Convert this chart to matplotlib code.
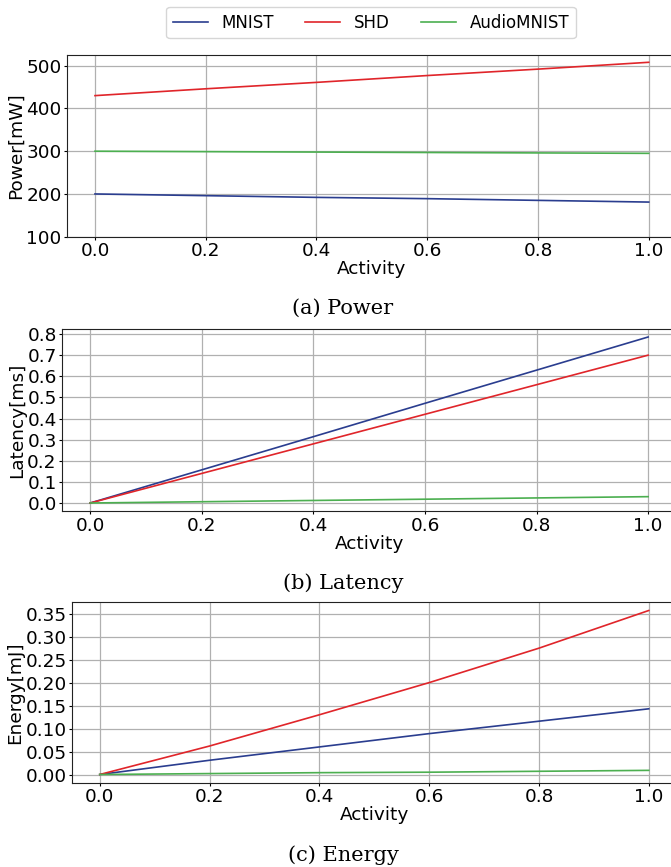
import matplotlib
matplotlib.use("Agg")
from matplotlib import pyplot as plt

activity = [0.0, 0.2, 0.4, 0.6, 0.8, 1.0]
datasets = ["MNIST", "SHD", "AudioMNIST"]
colors = ["#2a3d8f", "#e0252a", "#4caf50"]

power_mnist = [200, 196, 192, 189, 185, 181]
power_shd = [430, 446, 461, 477, 492, 508]
power_audio = [300, 299, 298, 297, 296, 295]

latency_mnist = [0.0, 0.157, 0.314, 0.472, 0.629, 0.786]
latency_shd = [0.0, 0.14, 0.28, 0.42, 0.56, 0.70]
latency_audio = [0.0, 0.006, 0.012, 0.018, 0.024, 0.030]

energy_mnist = [0.0, 0.031, 0.060, 0.089, 0.116, 0.143]
energy_shd = [0.0, 0.062, 0.130, 0.200, 0.275, 0.357]
energy_audio = [0.0, 0.002, 0.004, 0.005, 0.007, 0.009]

power_ticks = [100, 200, 300, 400, 500]
latency_ticks = [0.0, 0.1, 0.2, 0.3, 0.4, 0.5, 0.6, 0.7, 0.8]
energy_ticks = [0.0, 0.05, 0.10, 0.15, 0.20, 0.25, 0.30, 0.35]

W, H = 671, 867
fig = plt.figure(figsize=(W / 100, H / 100), dpi=100)

def px_axes(left, top, right, bottom):
    return fig.add_axes([left / W, 1 - bottom / H, (right - left) / W, (bottom - top) / H])

panels = [
    (px_axes(67.3, 55.3, 676.4, 236.7), [power_mnist, power_shd, power_audio],
     "Power[mW]", "(a) Power", 308, power_ticks, "{:.0f}"),
    (px_axes(62.3, 328.7, 676.0, 511.3), [latency_mnist, latency_shd, latency_audio],
     "Latency[ms]", "(b) Latency", 583, latency_ticks, "{:.1f}"),
    (px_axes(72.3, 602.3, 676.2, 782.7), [energy_mnist, energy_shd, energy_audio],
     "Energy[mJ]", "(c) Energy", 855, energy_ticks, "{:.2f}"),
]

FS = 13.3
for ax, series, ylabel, caption, cap_y, yt, fmt in panels:
    for name, vals, c in zip(datasets, series, colors):
        ax.plot(activity, vals, color=c, linewidth=1.2, label=name)
    ax.grid(True, color="#b0b0b0", linewidth=0.9)
    ax.set_xlabel("Activity", fontsize=FS, labelpad=0)
    ax.set_ylabel(ylabel, fontsize=FS, labelpad=1)
    ax.tick_params(labelsize=FS, pad=1.5, length=2.5)
    ax.set_xticks(activity)
    ax.set_yticks(yt)
    ax.set_yticklabels([fmt.format(v) for v in yt])
    for s in ax.spines.values():
        s.set_color("#222222")
    fig.text(343 / W, 1 - cap_y / H, caption, ha="center", va="center",
             fontsize=15, family="DejaVu Serif")

panels[0][0].set_ylim(bottom=100)

handles, labels = panels[0][0].get_legend_handles_labels()
fig.legend(handles, labels, loc="center", bbox_to_anchor=(371 / W, 1 - 22.5 / H),
           ncol=3, fontsize=12, frameon=True, handlelength=2.1, handletextpad=0.8,
           columnspacing=1.9, borderpad=0.4)

fig.savefig("out.png", dpi=100)
